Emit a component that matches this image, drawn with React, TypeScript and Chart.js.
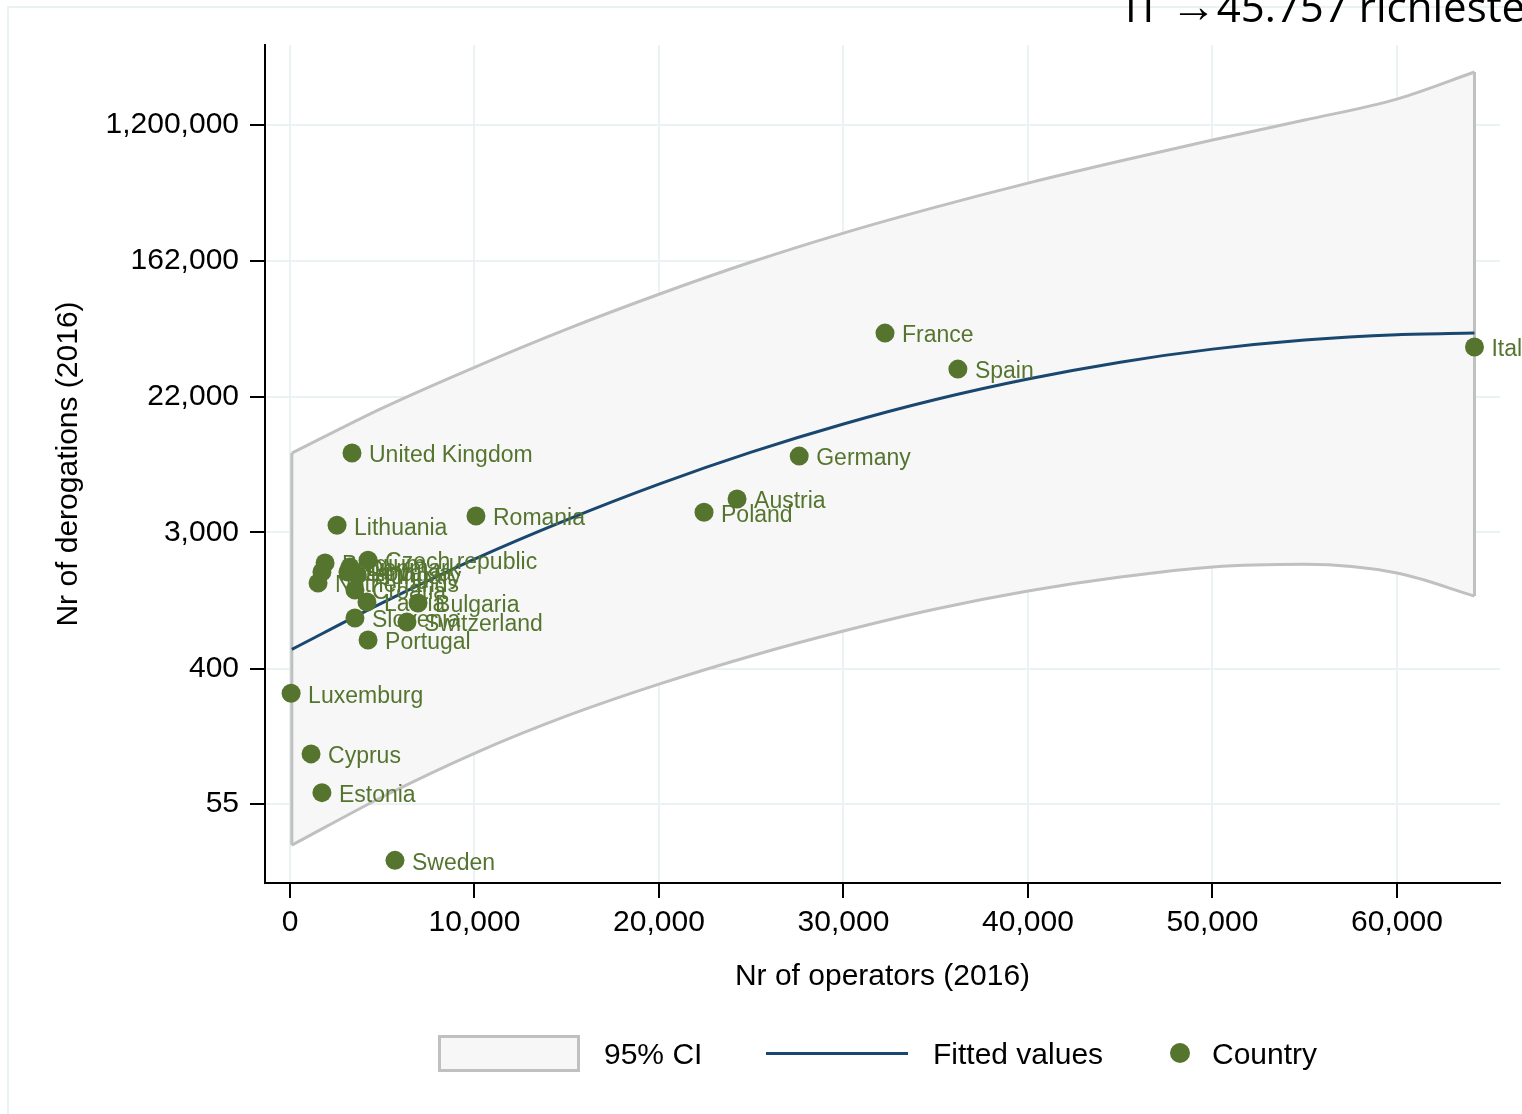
import React, { useEffect, useRef } from "react";
import { Chart, registerables } from "chart.js";
Chart.register(...registerables);

// ---- data ----
const countries = [
  "Italy", "France", "Spain", "Germany", "Austria", "Poland", "Romania",
  "United Kingdom", "Lithuania", "Czech republic", "Belgium", "Finland",
  "Netherlands", "Denmark", "Slovakia", "Hungary", "Croatia", "Latvia",
  "Bulgaria", "Slovenia", "Switzerland", "Portugal", "Luxemburg", "Cyprus",
  "Estonia", "Sweden",
];
const operators = [
  64200, 32250, 36200, 27600, 24230, 22440, 10080,
  3360, 2550, 4230, 1900, 1730,
  1520, 3250, 3140, 3650, 3520, 4170,
  6940, 3520, 6340, 4230, 60, 1140,
  1730, 5690,
];
const derogations = [
  45757, 56200, 33100, 9200, 4890, 4030, 3810,
  9620, 3330, 1990, 1906, 1670,
  1421, 1797, 1670, 1600, 1283, 1074,
  1058, 849, 801, 614, 281, 115,
  65, 24,
];
const fitX = [100, 5000, 10000, 15000, 20000, 25000, 30000, 35000, 40000, 45000, 50000, 55000, 60000, 64200];
const fitY = [535, 1061, 2020, 3600, 6090, 9750, 14760, 21150, 28600, 36650, 44400, 50800, 54900, 56200];
const ciUpper = [9620, 18650, 34000, 59600, 99600, 160000, 245000, 359000, 511000, 707000, 963000, 1293000, 1760000, 2620000];
const ciLower = [30, 61, 116, 201, 321, 486, 701, 969, 1263, 1551, 1800, 1870, 1645, 1173];
const xTicks = [0, 10000, 20000, 30000, 40000, 50000, 60000];
const yTicks = [55, 400, 3000, 22000, 162000, 1200000];

const GREEN = "#55752f";
const NAVY = "#1a476f";
const CI_FILL = "#f7f7f7";
const CI_LINE = "#c0c0c0";
const GRID = "#eaf2f3";
const FONT = "'Liberation Sans', Arial, sans-serif";

const pts = (xs: number[], ys: number[]) => xs.map((x, i) => ({ x, y: ys[i] }));

export default function App() {
  const ref = useRef<HTMLCanvasElement | null>(null);
  useEffect(() => {
    if (!ref.current) return;
    const labelPlugin = {
      id: "pointLabels",
      afterDatasetsDraw(chart: any) {
        const meta = chart.getDatasetMeta(0);
        const ctx = chart.ctx;
        ctx.save();
        ctx.font = `23px ${FONT}`;
        ctx.fillStyle = GREEN;
        ctx.textAlign = "left";
        ctx.textBaseline = "middle";
        meta.data.forEach((el: any, i: number) => {
          ctx.fillText(countries[i], el.x + 17, el.y + 3);
        });
        ctx.restore();
      },
    };
    const chart = new Chart(ref.current, {
      type: "scatter",
      data: {
        datasets: [
          {
            label: "Country",
            data: pts(operators, derogations),
            backgroundColor: GREEN,
            borderColor: GREEN,
            pointRadius: 9.5,
            pointHoverRadius: 9.5,
            borderWidth: 0,
          },
          {
            label: "Fitted values",
            data: pts(fitX, fitY),
            showLine: true,
            borderColor: NAVY,
            borderWidth: 3,
            pointRadius: 0,
            cubicInterpolationMode: "monotone",
            fill: false,
          },
          {
            label: "95% CI upper",
            data: pts(fitX, ciUpper),
            showLine: true,
            borderColor: CI_LINE,
            backgroundColor: CI_FILL,
            borderWidth: 3,
            pointRadius: 0,
            cubicInterpolationMode: "monotone",
            fill: "+1",
          },
          {
            label: "95% CI lower",
            data: pts(fitX, ciLower),
            showLine: true,
            borderColor: CI_LINE,
            borderWidth: 3,
            pointRadius: 0,
            cubicInterpolationMode: "monotone",
            fill: false,
          },
          {
            label: "edge left",
            data: [
              { x: fitX[0], y: ciUpper[0] },
              { x: fitX[0], y: ciLower[0] },
            ],
            showLine: true,
            borderColor: CI_LINE,
            borderWidth: 3,
            pointRadius: 0,
            fill: false,
          },
          {
            label: "edge right",
            data: [
              { x: fitX[fitX.length - 1], y: ciUpper[ciUpper.length - 1] },
              { x: fitX[fitX.length - 1], y: ciLower[ciLower.length - 1] },
            ],
            showLine: true,
            borderColor: CI_LINE,
            borderWidth: 3,
            pointRadius: 0,
            fill: false,
          },
        ],
      },
      options: {
        responsive: false,
        animation: false,
        devicePixelRatio: 1,
        layout: { padding: { left: 0, top: 45, right: 22, bottom: 0 } },
        plugins: {
          legend: { display: false },
          tooltip: { enabled: false },
          filler: { drawTime: "beforeDatasetsDraw" },
        },
        scales: {
          x: {
            type: "linear",
            min: -1355,
            max: 65583,
            afterBuildTicks: (s: any) => {
              s.ticks = xTicks.map((v) => ({ value: v }));
            },
            afterFit: (s: any) => {
              s.height = 231;
            },
            ticks: {
              color: "#000",
              font: { size: 30, family: FONT },
              padding: 7,
              maxRotation: 0,
              autoSkip: false,
              callback: (v: any) => Number(v).toLocaleString("en-US"),
            },
            grid: { color: GRID, lineWidth: 2, tickLength: 15, tickColor: "#000", tickWidth: 2 },
            border: { display: true, color: "#000", width: 2 },
            title: {
              display: true,
              text: "Nr of operators (2016)",
              color: "#000",
              font: { size: 30, family: FONT },
              padding: { top: 0, bottom: 119 },
            },
          },
          y: {
            type: "logarithmic",
            min: 17.2,
            max: 3900000,
            afterBuildTicks: (s: any) => {
              s.ticks = yTicks.map((v) => ({ value: v }));
            },
            afterFit: (s: any) => {
              s.width = 265;
            },
            ticks: {
              color: "#000",
              font: { size: 30, family: FONT },
              padding: 11,
              autoSkip: false,
              callback: (v: any) => Number(v).toLocaleString("en-US"),
            },
            grid: { color: GRID, lineWidth: 2, tickLength: 15, tickColor: "#000", tickWidth: 2 },
            border: { display: true, color: "#000", width: 2 },
            title: {
              display: true,
              text: "Nr of derogations (2016)",
              color: "#000",
              font: { size: 30, family: FONT },
              padding: { top: 51, bottom: 0 },
            },
          },
        },
      },
      plugins: [labelPlugin],
    } as any);
    return () => chart.destroy();
  }, []);

  const legendText: React.CSSProperties = {
    position: "absolute",
    top: 1036,
    height: 36,
    lineHeight: "36px",
    fontFamily: FONT,
    fontSize: 30,
    color: "#000",
    whiteSpace: "nowrap",
  };

  return (
    <div
      style={{
        position: "fixed",
        left: 0,
        top: 0,
        width: 1522,
        height: 1114,
        overflow: "hidden",
        background: "#fff",
      }}
    >
      <div
        style={{
          position: "absolute",
          left: 7,
          top: 6,
          width: 2000,
          height: 2000,
          border: `2px solid ${GRID}`,
        }}
      />
      <canvas ref={ref} width={1522} height={1114} style={{ position: "absolute", left: 0, top: 0 }} />
      <div
        style={{
          position: "absolute",
          left: 438,
          top: 1035,
          width: 142,
          height: 37,
          boxSizing: "border-box",
          background: CI_FILL,
          border: `3px solid ${CI_LINE}`,
        }}
      />
      <div style={{ ...legendText, left: 604 }}>95% CI</div>
      <div style={{ position: "absolute", left: 766, top: 1052, width: 142, height: 3, background: NAVY }} />
      <div style={{ ...legendText, left: 933 }}>Fitted values</div>
      <div
        style={{
          position: "absolute",
          left: 1170,
          top: 1043,
          width: 20,
          height: 20,
          borderRadius: "50%",
          background: GREEN,
        }}
      />
      <div style={{ ...legendText, left: 1212 }}>Country</div>
      <div
        style={{
          position: "absolute",
          left: 1125,
          top: -24,
          fontFamily: "'Open Sans', sans-serif",
          fontSize: 42,
          lineHeight: "56px",
          color: "#000",
          whiteSpace: "nowrap",
        }}
      >
        IT <span style={{ fontWeight: 700, fontSize: 46 }}>→</span>45.757 richieste
      </div>
    </div>
  );
}
